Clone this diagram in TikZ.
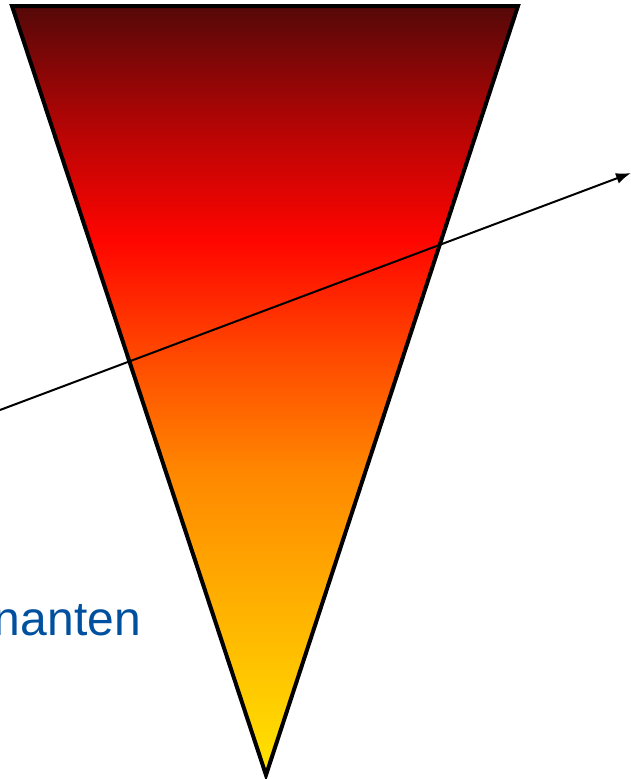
\documentclass[tikz,border=0pt]{standalone}
\usepackage{fontspec}
\setmainfont{Liberation Sans}
\usepackage{xcolor}
\usetikzlibrary{arrows.meta, positioning}
\definecolor{textblau}{RGB}{0,80,160}
\definecolor{glutgelb}{RGB}{255,228,0}
\definecolor{glutorange}{RGB}{255,175,0}
\definecolor{glutdunkelorange}{RGB}{255,135,0}
\definecolor{glutrotorange}{RGB}{255,70,0}
\definecolor{glutrot}{RGB}{255,5,0}
\definecolor{glutdunkelrot}{RGB}{175,5,5}
\definecolor{glutbraun}{RGB}{85,8,8}
\pgfdeclareverticalshading{glut}{100bp}{%
  color(0bp)=(glutgelb); color(25bp)=(glutgelb);
  color(36.4bp)=(glutorange); color(44.8bp)=(glutdunkelorange);
  color(52.6bp)=(glutrotorange); color(59.8bp)=(glutrot);
  color(67.6bp)=(glutdunkelrot); color(75bp)=(glutbraun);
  color(100bp)=(glutbraun)}

\begin{document}
\begin{tikzpicture}[x=1pt, y=-1pt, >=Stealth]
    \useasboundingbox (0,0) rectangle (631,779);
    % Dreieck
    \coordinate (links) at (12,6);
    \coordinate (rechts) at (518,6);
    \coordinate (spitze) at (266,775);
    \draw[line width=4pt, line join=miter, shading=glut]
          (links) -- (rechts) -- (spitze) -- cycle;
    % Pfeil
    \coordinate (start) at (0,410);
    \coordinate (ziel) at (631,173);
    \draw[->, >={Latex[length=15pt, width=11pt]}, line width=2pt]
          (start) -- (ziel);
    % Text
    \node[anchor=base east, inner sep=0pt, font=\fontsize{48}{52}\selectfont,
          text=textblau] (wort) at (141,635) {nanten};
  \end{tikzpicture}
\end{document}
